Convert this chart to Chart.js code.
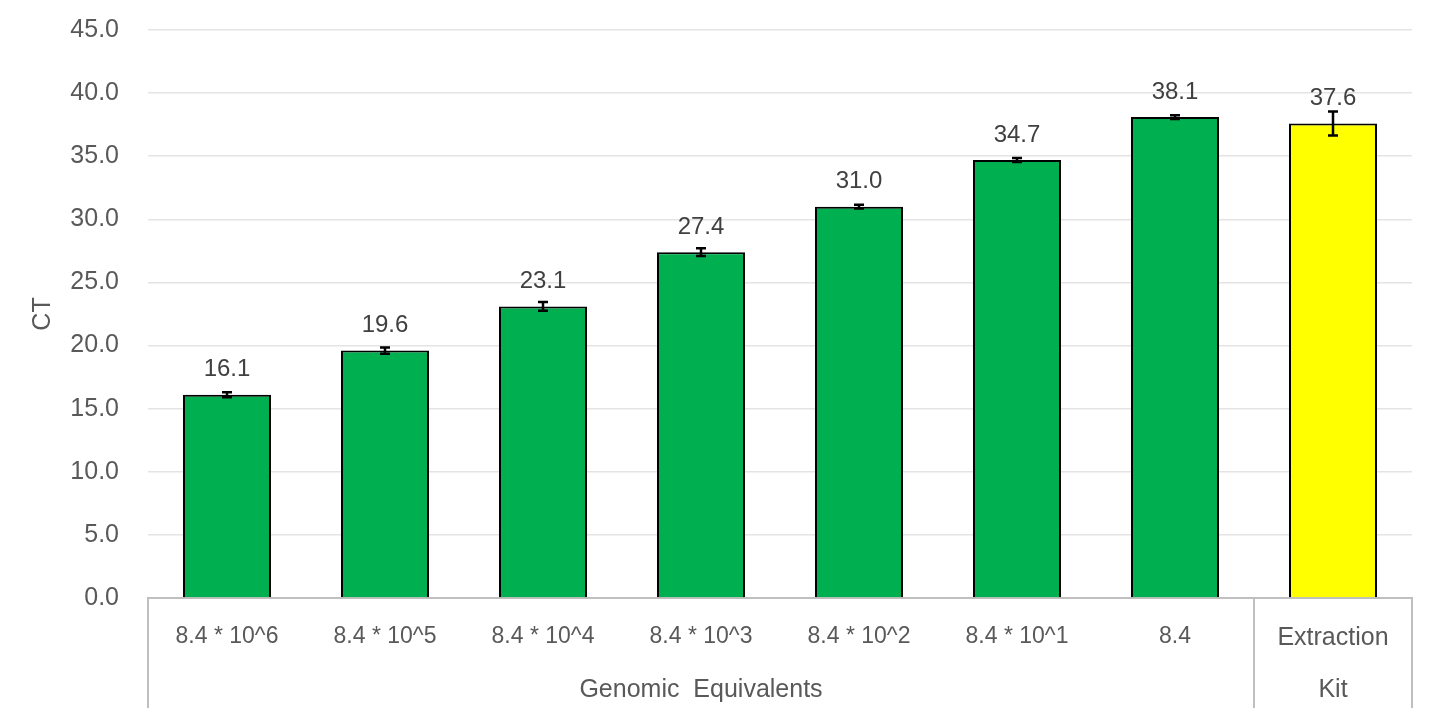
<!DOCTYPE html>
<html lang="en">
<head>
  <meta charset="UTF-8">
  <title>CT by Genomic Equivalents</title>
  <script src="https://cdn.jsdelivr.net/npm/chart.js"></script>
  <style>
    html, body { margin: 0; padding: 0; background: #fff; }
    .chart-box { position: relative; width: 1435px; height: 718px; }
  </style>
</head>
<body>
  <div class="chart-box">
    <canvas id="ctChart"></canvas>
  </div>

  <script>
    // data
    const categories = ['8.4 * 10^6', '8.4 * 10^5', '8.4 * 10^4', '8.4 * 10^3', '8.4 * 10^2', '8.4 * 10^1', '8.4', 'Extraction'];
    const groupLabels = ['Genomic  Equivalents', 'Kit'];
    const groupSpans = [7, 1];
    const ctValues = [16.1, 19.6, 23.1, 27.4, 31.0, 34.7, 38.1, 37.6];
    const ctErrors = [0.2, 0.25, 0.35, 0.3, 0.15, 0.15, 0.15, 0.95];
    const barColors = ['#00b050', '#00b050', '#00b050', '#00b050', '#00b050', '#00b050', '#00b050', '#ffff00'];
    const yTicks = [0, 5, 10, 15, 20, 25, 30, 35, 40, 45];

    const FONT = "'Liberation Sans', Arial, sans-serif";
    const AXIS_GREY = '#bfbfbf';

    // error bars drawn through the y scale
    const errorBars = {
      id: 'errorBars',
      afterDatasetsDraw(chart) {
        const { ctx, scales: { y } } = chart;
        const meta = chart.getDatasetMeta(0);
        ctx.save();
        ctx.strokeStyle = '#000';
        ctx.lineWidth = 2.5;
        meta.data.forEach((bar, i) => {
          const v = ctValues[i], e = ctErrors[i];
          const top = y.getPixelForValue(v + e);
          const bot = y.getPixelForValue(v - e);
          ctx.beginPath();
          ctx.moveTo(bar.x, top); ctx.lineTo(bar.x, bot);
          ctx.moveTo(bar.x - 5, top); ctx.lineTo(bar.x + 5, top);
          ctx.moveTo(bar.x - 5, bot); ctx.lineTo(bar.x + 5, bot);
          ctx.stroke();
        });
        ctx.restore();
      }
    };

    // value labels above each bar
    const valueLabels = {
      id: 'valueLabels',
      afterDatasetsDraw(chart) {
        const { ctx } = chart;
        const meta = chart.getDatasetMeta(0);
        ctx.save();
        ctx.font = '24px ' + FONT;
        ctx.fillStyle = '#404040';
        ctx.textAlign = 'center';
        ctx.textBaseline = 'middle';
        meta.data.forEach((bar, i) => {
          ctx.fillText(ctValues[i].toFixed(1), bar.x, bar.y - 25);
        });
        ctx.restore();
      }
    };

    // second level of the category axis + separators
    const groupAxis = {
      id: 'groupAxis',
      afterDraw(chart) {
        const { ctx, chartArea } = chart;
        const step = (chartArea.right - chartArea.left) / categories.length;
        ctx.save();
        ctx.strokeStyle = AXIS_GREY;
        ctx.lineWidth = 2;
        ctx.font = '25px ' + FONT;
        ctx.fillStyle = '#595959';
        ctx.textAlign = 'center';
        ctx.textBaseline = 'middle';
        let start = 0;
        const edges = [chartArea.left];
        groupSpans.forEach((span, g) => {
          const x0 = chartArea.left + start * step;
          const x1 = chartArea.left + (start + span) * step;
          edges.push(x1);
          ctx.fillText(groupLabels[g], (x0 + x1) / 2, chartArea.bottom + 92);
          start += span;
        });
        edges.forEach(ex => {
          ctx.beginPath();
          ctx.moveTo(ex, chartArea.bottom);
          ctx.lineTo(ex, chartArea.bottom + 110);
          ctx.stroke();
        });
        ctx.restore();
      }
    };

    const ctx = document.getElementById('ctChart').getContext('2d');
    new Chart(ctx, {
      type: 'bar',
      data: {
        labels: categories,
        datasets: [{
          label: 'CT',
          data: ctValues,
          backgroundColor: barColors,
          borderColor: '#000',
          borderWidth: 2,
          categoryPercentage: 1,
          barPercentage: 0.557
        }]
      },
      options: {
        responsive: true,
        maintainAspectRatio: false,
        animation: false,
        layout: { padding: { top: 30, right: 23, left: 28, bottom: 0 } },
        plugins: {
          legend: { display: false },
          tooltip: { enabled: false }
        },
        scales: {
          x: {
            grid: { display: false, drawTicks: false },
            border: { display: true, color: AXIS_GREY, width: 2 },
            ticks: {
              color: '#595959',
              font: c => ({ family: FONT, size: c.index === 7 ? 25 : 23 }),
              padding: 25,
              maxRotation: 0,
              autoSkip: false
            },
            afterFit(scale) { scale.height = 120; }
          },
          y: {
            min: 0,
            max: 45,
            afterBuildTicks(scale) { scale.ticks = yTicks.map(v => ({ value: v })); },
            grid: { color: '#e4e4e4', lineWidth: 1.5, drawTicks: true, tickLength: 29, tickColor: 'transparent' },
            border: { display: false },
            ticks: {
              color: '#595959',
              font: { family: FONT, size: 25 },
              padding: 0,
              callback: v => v.toFixed(1)
            },
            title: {
              display: true,
              text: 'CT',
              color: '#595959',
              font: { family: FONT, size: 25 },
              padding: 0
            },
            afterFit(scale) { scale.width = 120; }
          }
        }
      },
      plugins: [errorBars, valueLabels, groupAxis]
    });
  </script>
</body>
</html>
